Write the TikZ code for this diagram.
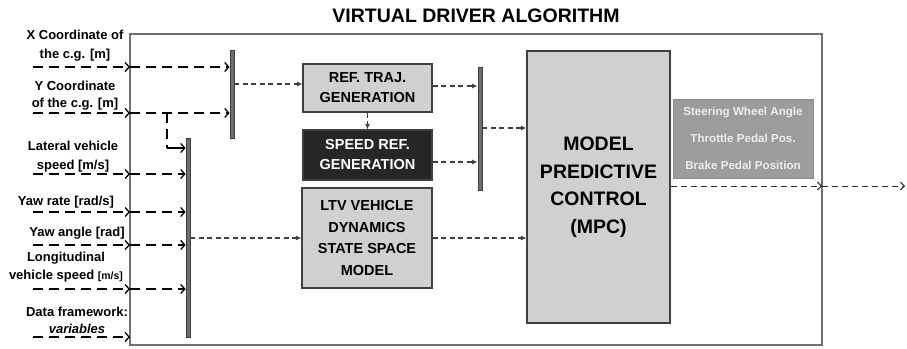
\documentclass[tikz,border=0pt]{standalone}
\usepackage{fontspec}
\setmainfont{Liberation Sans}
\usetikzlibrary{arrows.meta}
\definecolor{framegray}{HTML}{707070}
\definecolor{barfill}{HTML}{6E6E6E}
\definecolor{boxfill}{HTML}{D1D0D1}
\definecolor{darkfill}{HTML}{262626}
\definecolor{outfill}{HTML}{9C9C9C}
\tikzset{
  lbl/.style={font=\bfseries\fontsize{13}{19}\selectfont, align=center, inner sep=0pt},
  bar/.style={draw=black!75, fill=barfill, line width=0.8pt, minimum width=4pt, inner sep=0pt},
  blk/.style={draw=black!75, fill=boxfill, line width=1.1pt, inner sep=0pt, align=center,
              font=\bfseries\fontsize{14.5}{20}\selectfont},
  inarrow/.style={line width=1.4pt, dash pattern=on 10pt off 6pt,
                  -{Straight Barb[length=4pt,width=9pt,line width=1.3pt]}},
  flow/.style={line width=1.1pt, draw=black!75, dash pattern=on 5pt off 3.5pt,
               -{Latex[length=5.5pt,width=5pt]}},
  outarrow/.style={line width=1pt, draw=black!80, dash pattern=on 6pt off 4pt,
                   -{Straight Barb[length=4pt,width=8pt,line width=1pt]}}
}
\begin{document}
\begin{tikzpicture}[x=1pt,y=-1pt]
\useasboundingbox (0,0) rectangle (907,348);

% title and enclosing frame
\node[font=\bfseries\fontsize{19.5}{22}\selectfont] (title) at (476,16) {VIRTUAL DRIVER ALGORITHM};
\draw[framegray, line width=1.3pt] (130,34) rectangle (822,345);

% input labels
\node[lbl] (lX) at (75,46) {X Coordinate of\\the c.g. [m]};
\node[lbl, font=\bfseries\fontsize{13}{17}\selectfont] (lY) at (75,96) {Y Coordinate\\of the c.g. [m]};
\node[lbl, font=\bfseries\fontsize{13}{19}\selectfont] (lLat) at (73,157) {Lateral vehicle\\speed [m/s]};
\node[lbl] (lRate) at (66,202) {Yaw rate [rad/s]};
\node[lbl] (lAng) at (77,233) {Yaw angle [rad]};
\node[lbl, font=\bfseries\fontsize{13}{18.5}\selectfont] (lLon) at (66,267) {Longitudinal\\vehicle speed {\fontsize{10.5}{12}\selectfont[m/s]}};
\node[lbl, font=\bfseries\fontsize{13}{17}\selectfont] (lData) at (77,320) {Data framework:\\\textit{variables}};

% merge bars
\node[bar, minimum height=88pt] (bar1) at (232,94) {};
\node[bar, minimum height=199pt] (bar2) at (188,237.5) {};
\node[bar, minimum height=123pt] (bar3) at (480,128.5) {};

% blocks
\node[blk, minimum width=129pt, minimum height=48pt] (ref) at (367.5,88) {REF. TRAJ.\\GENERATION};
\node[blk, fill=darkfill, text=white, minimum width=129pt, minimum height=50pt] (spd) at (367.5,155) {SPEED REF.\\GENERATION};
\node[blk, minimum width=130pt, minimum height=100pt, font=\bfseries\fontsize{14.5}{21.5}\selectfont] (ltv) at (367,238) {LTV VEHICLE\\DYNAMICS\\STATE SPACE\\MODEL};
\node[blk, minimum width=143pt, minimum height=272pt, font=\bfseries\fontsize{19.5}{27.5}\selectfont] (mpc) at (598.5,187)
  {MODEL\\PREDICTIVE\\CONTROL\\(MPC)};
\node[draw=black!45, fill=outfill, line width=0.8pt, minimum width=140pt, minimum height=79pt,
      align=center, text=white!93!black, font=\bfseries\fontsize{11.6}{27}\selectfont] (out) at (743,138.5)
      {Steering Wheel Angle\\Throttle Pedal Pos.\\Brake Pedal Position};

% input signals: outside source -> frame -> bar
\foreach \nm/\yy/\tgt in {X/67/bar1, Y/113/bar1, Lat/174/bar2, Rate/212/bar2, Ang/245/bar2, Lon/289/bar2}{
  \coordinate (src\nm) at (33,\yy);
  \coordinate (ent\nm) at (130,\yy);
  \draw[inarrow] (src\nm) -- (ent\nm);
  \draw[inarrow] (ent\nm) -- (ent\nm -| \tgt.west);
}
\coordinate (srcData) at (33,337);
\coordinate (entData) at (130,337);
\draw[inarrow] (srcData) -- (entData);

% branch of the Y coordinate into the second bar
\coordinate (tapY) at (167,113);
\coordinate (kneeY) at (167,148);
\draw[line width=1.4pt, dash pattern=on 10pt off 6pt] (tapY) -- (kneeY);
\draw[line width=1.4pt, -{Straight Barb[length=4pt,width=9pt,line width=1.3pt]}] (kneeY) -- (kneeY -| bar2.west);

% internal signal flow
\draw[flow] (bar1.east |- 0,84) -- (ref.west |- 0,84);
\draw[flow] (ref.east |- 0,86) -- (bar3.west |- 0,86);
\draw[flow] (ref.south) -- (spd.north);
\draw[flow] (spd.east |- 0,162) -- (bar3.west |- 0,162);
\draw[flow] (bar3.east |- 0,128) -- (mpc.west |- 0,128);
\draw[flow] (bar2.east |- ltv.west) -- (ltv.west);
\draw[flow] (ltv.east) -- (mpc.west |- ltv.east);

% control outputs leaving the algorithm
\coordinate (exitO) at (822,186);
\coordinate (sinkO) at (905,186);
\draw[outarrow] (mpc.east |- exitO) -- (exitO);
\draw[outarrow] (exitO) -- (sinkO);
\end{tikzpicture}
\end{document}
